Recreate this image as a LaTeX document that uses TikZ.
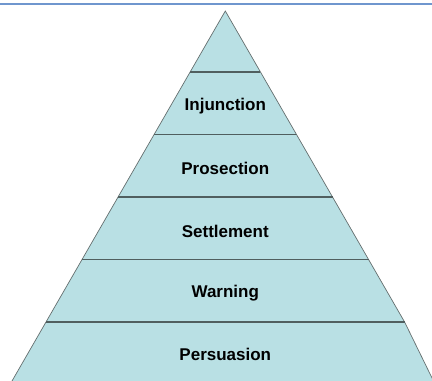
\documentclass[tikz,border=0pt]{standalone}
\usepackage{fontspec}
\setmainfont{Liberation Sans}
\usetikzlibrary{calc}
\definecolor{bandfill}{RGB}{185,224,228}
\definecolor{edgegray}{RGB}{100,110,110}
\definecolor{rulegray}{RGB}{80,95,95}
\definecolor{topblue}{RGB}{111,150,206}
\tikzset{
  levellabel/.style={font=\fontsize{17}{20}\selectfont\bfseries, anchor=base, inner sep=0pt},
  separator/.style={draw=rulegray, line width=1.2pt},
}

\begin{document}
\begin{tikzpicture}[x=1pt,y=-1pt]
\useasboundingbox (0,0) rectangle (432,381);
\draw[topblue, line width=1.3pt] (0,4) -- (432,4);
\coordinate (top) at (225.3,11);
\coordinate (bl) at (12,381);
\coordinate (kink) at (404.6,322);
\coordinate (br) at (433.5,381);
\begin{scope}
\clip (0,0) rectangle (432,381);
\fill[bandfill] (top) -- (kink) -- (br) -- (bl) -- cycle;
\draw[edgegray, line width=0.7pt] (bl) -- (top) -- (kink) -- (br);
\end{scope}
% level separators
\foreach \y in {72,134.5,197,259.5,322}{
  \pgfmathsetmacro{\dx}{0.5765*(\y-11)}
  \draw[separator] (225.3-\dx,\y) -- (225.3+\dx,\y);
}
% level labels
\node[levellabel] (injunction) at (225.3,110.5) {Injunction};
\node[levellabel] (prosection) at (225.3,174.5) {Prosection};
\node[levellabel] (settlement) at (225.3,237) {Settlement};
\node[levellabel] (warning) at (225.3,297.7) {Warning};
\node[levellabel] (persuasion) at (225.3,360) {Persuasion};
\end{tikzpicture}
\end{document}
